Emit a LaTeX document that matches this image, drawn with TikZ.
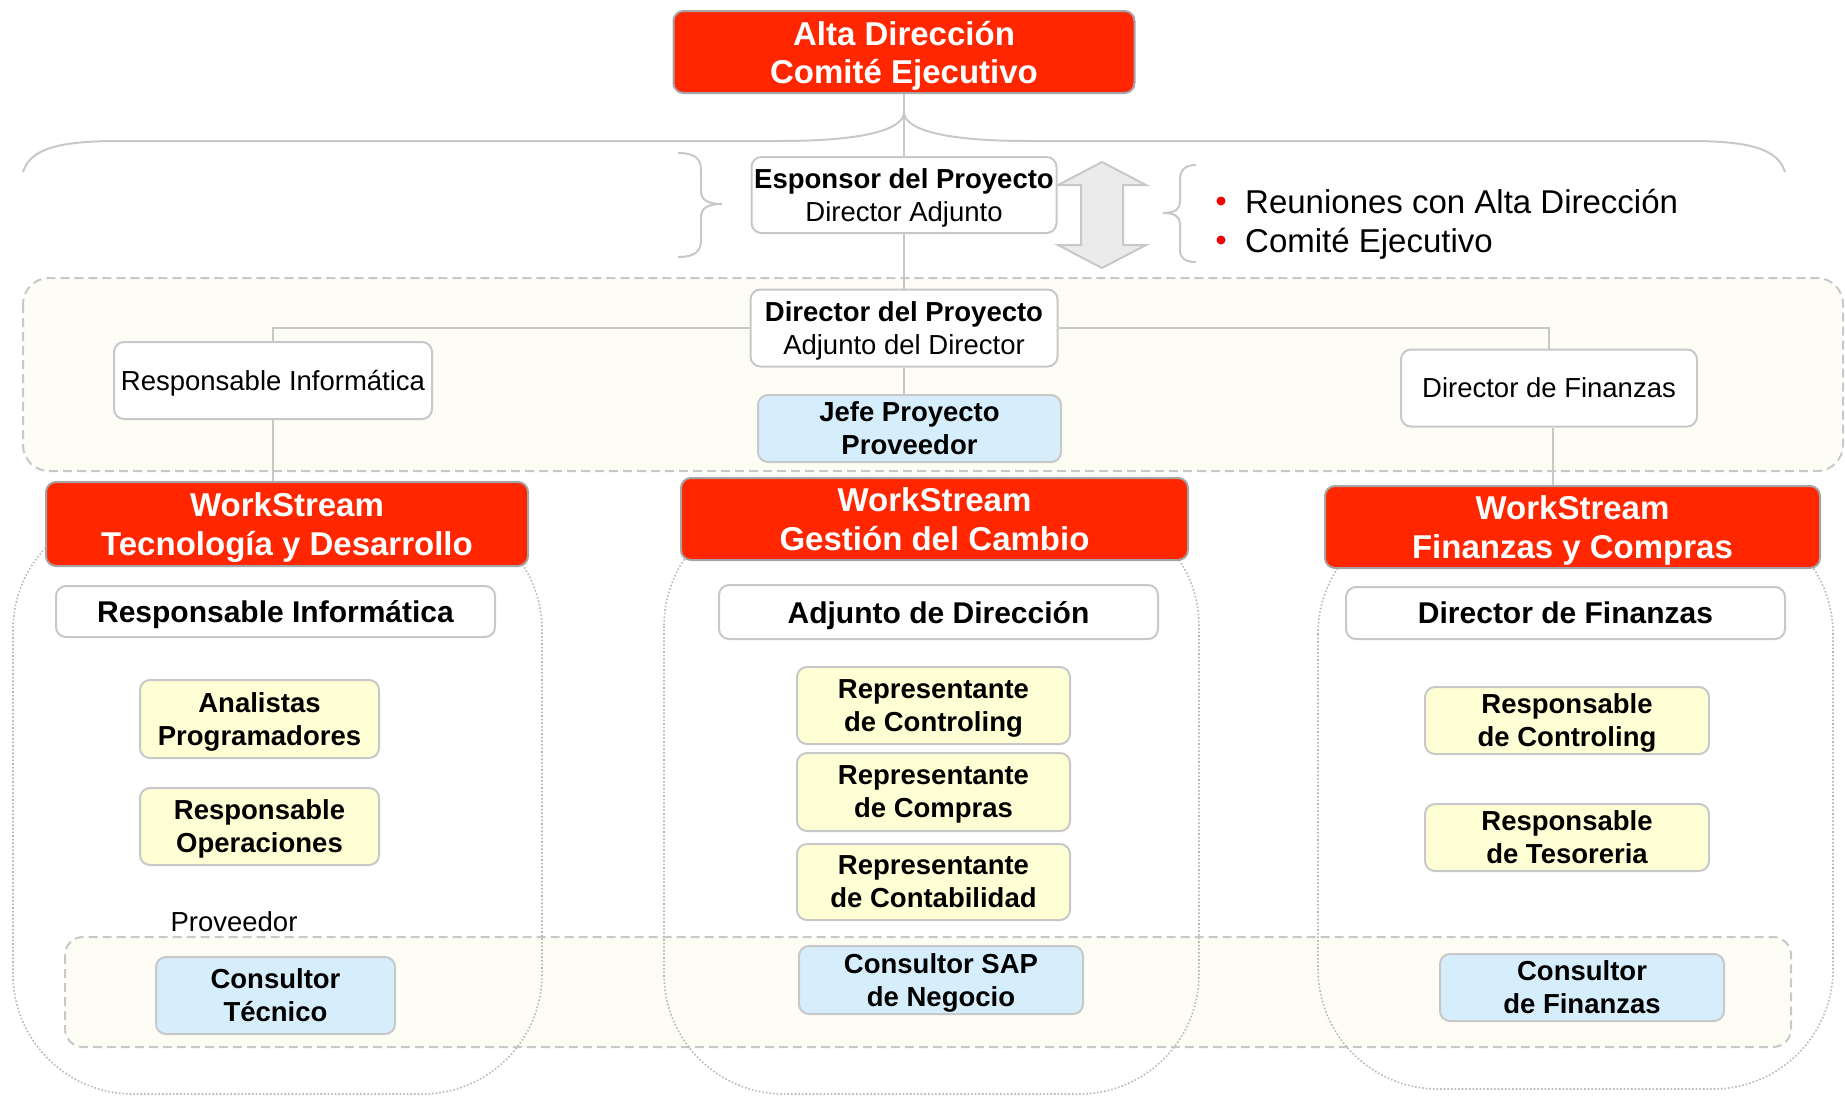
\documentclass[tikz,border=0pt]{standalone}
\usepackage{fontspec}
\setmainfont{Liberation Sans}
\definecolor{wsred}{RGB}{255,38,0}
\definecolor{bordergray}{RGB}{200,200,200}
\definecolor{darkborder}{RGB}{165,165,165}
\definecolor{ylw}{RGB}{255,255,214}
\definecolor{blu}{RGB}{214,238,252}
\definecolor{cream}{RGB}{253,253,245}
\definecolor{arrowgray}{RGB}{235,235,235}
\definecolor{dotgray}{RGB}{185,185,185}
\definecolor{bulletred}{RGB}{245,0,0}
\tikzset{
  box/.style={draw=bordergray, line width=2pt, rounded corners=10pt, inner sep=0pt, align=center,
              text depth=0pt, font=\fontsize{27.5}{33}\selectfont},
  redbox/.style={box, fill=wsred, draw=darkborder, text=white, font=\fontsize{33}{39}\selectfont\bfseries},
  whitebox/.style={box, fill=white},
  headbox/.style={box, fill=white, font=\fontsize{30}{36}\selectfont\bfseries},
  ylwbox/.style={box, fill=ylw, font=\fontsize{27.5}{33}\selectfont\bfseries},
  blubox/.style={box, fill=blu, font=\fontsize{27.5}{33}\selectfont\bfseries},
  conn/.style={draw=bordergray, line width=2pt},
  brace/.style={draw=bordergray, line width=2pt},
  dashregion/.style={draw=bordergray, line width=2pt, dash pattern=on 9pt off 5pt, fill=cream},
  colregion/.style={draw=dotgray, line width=1.6pt, dash pattern=on 1.6pt off 2pt, rounded corners=120pt},
  bigtext/.style={font=\fontsize{33}{39}\selectfont, inner sep=0pt},
  plaintext/.style={font=\fontsize{27.5}{33}\selectfont, inner sep=0pt}
}
\begin{document}
\begin{tikzpicture}[x=1pt,y=-1pt]
\useasboundingbox (0,0) rectangle (1845,1096);

% background regions
\path[dashregion, rounded corners=26pt] (23,278) rectangle (1843,471);
\path[dashregion, rounded corners=18pt] (65,937) rectangle (1791,1047);
\draw[colregion] (13,510) rectangle (542,1094);
\draw[colregion] (664,506) rectangle (1199,1094);
\draw[colregion] (1318,514) rectangle (1833,1089);

% big brace under top box
\draw[brace] (23,172) .. controls (30,150) and (55,141) .. (118,141)
  -- (780,141) .. controls (870,141) and (904,128) .. (904,112)
  .. controls (904,128) and (938,141) .. (1028,141)
  -- (1690,141) .. controls (1753,141) and (1778,150) .. (1785,172);

% small left brace
\draw[brace] (678,153) .. controls (694,153) and (701,158) .. (701,170) -- (701,191)
  .. controls (701,200) and (708,204) .. (722,204)
  .. controls (708,204) and (701,208) .. (701,217) -- (701,240)
  .. controls (701,252) and (694,257) .. (678,257);

% right brace
\draw[brace] (1196,165) .. controls (1185,165) and (1180,170) .. (1180,180) -- (1180,202)
  .. controls (1180,209) and (1175,213) .. (1163,213)
  .. controls (1175,213) and (1180,217) .. (1180,224) -- (1180,250)
  .. controls (1180,258) and (1185,262) .. (1196,262);

% double arrow
\draw[draw=bordergray, fill=arrowgray, line width=2pt, line join=miter]
  (1102,162) -- (1146,185) -- (1123,185) -- (1123,245) -- (1146,245) -- (1102,268)
  -- (1058,245) -- (1081,245) -- (1081,185) -- (1058,185) -- cycle;

% top level nodes
\node[redbox, minimum width=461, minimum height=82, font=\fontsize{33}{38}\selectfont\bfseries]
  (top) at (904,52) {Alta Dirección\\Comité Ejecutivo};
\node[whitebox, minimum width=305, minimum height=76] (esp) at (904,195)
  {\textbf{Esponsor del Proyecto}\\Director Adjunto};
\node[whitebox, minimum width=307, minimum height=77] (dir) at (904,328)
  {\textbf{Director del Proyecto}\\Adjunto del Director};
\node[whitebox, minimum width=318, minimum height=77] (ri) at (273,380.5)
  {Responsable Informática};
\node[blubox, minimum width=303, minimum height=67] (jefe) at (909.5,428.5)
  {Jefe Proyecto\\Proveedor};
\node[whitebox, minimum width=296, minimum height=77] (df) at (1549,388)
  {Director de Finanzas};

% bullets
\fill[bulletred] (1221,201) circle (4.5);
\fill[bulletred] (1221,240) circle (4.5);
\node[bigtext, anchor=base west] (b1) at (1245,213) {Reuniones con Alta Dirección};
\node[bigtext, anchor=base west] (b2) at (1245,252) {Comité Ejecutivo};

% workstreams
\node[redbox, minimum width=482, minimum height=84] (ws1) at (287,524)
  {WorkStream\\Tecnología y Desarrollo};
\node[redbox, minimum width=507, minimum height=82] (ws2) at (934.5,519)
  {WorkStream\\Gestión del Cambio};
\node[redbox, minimum width=495, minimum height=82] (ws3) at (1572.5,527)
  {WorkStream\\Finanzas y Compras};

% column 1
\node[headbox, minimum width=439, minimum height=51] (c1a) at (275.5,611.5) {Responsable Informática};
\node[ylwbox, minimum width=239, minimum height=78] (c1b) at (259.5,719) {Analistas\\Programadores};
\node[ylwbox, minimum width=239, minimum height=77] (c1c) at (259.5,826.5) {Responsable\\Operaciones};
\node[plaintext] (prov) at (234,922) {Proveedor};
\node[blubox, minimum width=239, minimum height=77] (c1d) at (275.5,995.5) {Consultor\\Técnico};

% column 2
\node[headbox, minimum width=439, minimum height=54] (c2a) at (938.5,612) {Adjunto de Dirección};
\node[ylwbox, minimum width=273, minimum height=77] (c2b) at (933.5,705.5) {Representante\\de Controling};
\node[ylwbox, minimum width=273, minimum height=78] (c2c) at (933.5,792) {Representante\\de Compras};
\node[ylwbox, minimum width=273, minimum height=76] (c2d) at (933.5,882) {Representante\\de Contabilidad};
\node[blubox, minimum width=284, minimum height=68] (c2e) at (941,980) {Consultor SAP\\de Negocio};

% column 3
\node[headbox, minimum width=439, minimum height=52] (c3a) at (1565.5,613) {Director de Finanzas};
\node[ylwbox, minimum width=284, minimum height=67] (c3b) at (1567,720.5) {Responsable\\de Controling};
\node[ylwbox, minimum width=284, minimum height=67] (c3c) at (1567,837.5) {Responsable\\de Tesoreria};
\node[blubox, minimum width=284, minimum height=67] (c3d) at (1582,987.5) {Consultor\\de Finanzas};

% connectors
\draw[conn] (top.south) -- (esp.north);
\draw[conn] (esp.south) -- (dir.north);
\draw[conn] (dir.south) -- (dir.south |- jefe.north);
\draw[conn] (dir.west) -| (ri.north);
\draw[conn] (dir.east) -| (df.north);
\draw[conn] (ri.south) -- (ri.south |- ws1.north);
\draw[conn] ([xshift=4pt]df.south) -- ([xshift=4pt]df.south |- ws3.north);
\end{tikzpicture}
\end{document}
